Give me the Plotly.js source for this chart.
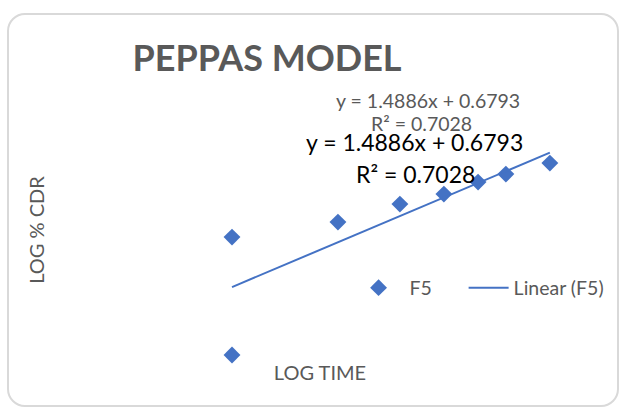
<!DOCTYPE html>
<html>
<head>
<meta charset="utf-8">
<script src="https://cdn.plot.ly/plotly-3.0.1.min.js"></script>
<style>
  html, body { margin: 0; padding: 0; background: #ffffff; }
  #wrap { position: relative; width: 623px; height: 410px; overflow: hidden; }
  #frame { position: absolute; left: 7px; top: 13px; width: 612px; height: 394px;
           border: 2px solid #d9d9d9; border-radius: 18px; box-sizing: border-box; }
  #chart { position: absolute; left: 0; top: 0; width: 623px; height: 410px; }
</style>
</head>
<body>
<div id="wrap">
  <div id="frame"></div>
  <div id="chart"></div>
</div>
<script>
// Data
const logTime = [0, 0, 0.301, 0.477, 0.602, 0.699, 0.778, 0.903];
const logCDR  = [1.179, 0, 1.329, 1.509, 1.609, 1.729, 1.809, 1.919];
const seriesName = "F5";
const trendName = "Linear (F5)";
const slope = 1.4886;
const intercept = 0.6793;
const rSquared = 0.7028;

const xMin = Math.min(...logTime), xMax = Math.max(...logTime);
const trendX = [xMin, xMax];
const trendY = trendX.map(x => slope * x + intercept);

const eqText = "y = " + slope.toFixed(4) + "x + " + intercept.toFixed(4);
const r2Text = "R² = " + rSquared.toFixed(4);

const blue = "#4472C4";
const grey = "#595959";
const fontFam = "Lato, 'Open Sans', sans-serif";

const traces = [
  { x: logTime, y: logCDR, name: seriesName, type: "scatter", mode: "markers",
    marker: { symbol: "diamond", size: 13, color: blue }, cliponaxis: false, legend: "legend" },
  { x: trendX, y: trendY, name: trendName, type: "scatter", mode: "lines",
    line: { color: blue, width: 2 }, cliponaxis: false, legend: "legend2" }
];

const layout = {
  width: 623, height: 410,
  margin: { l: 56, r: 39, t: 105, b: 55 },
  paper_bgcolor: "rgba(0,0,0,0)", plot_bgcolor: "rgba(0,0,0,0)",
  font: { family: fontFam, color: grey, size: 16 },
  title: { text: "<b>PEPPAS MODEL</b>", font: { size: 36, color: grey, family: fontFam },
           x: 267 / 623, xanchor: "center", xref: "container",
           y: 1 - 58 / 410, yanchor: "middle", yref: "container" },
  xaxis: { range: [-0.5, 1], showgrid: false, zeroline: false, showline: false,
           showticklabels: false, ticks: "",
           title: { text: "LOG TIME", font: { size: 20, color: grey }, standoff: 10 } },
  yaxis: { range: [0, 2.5], showgrid: false, zeroline: false, showline: false,
           showticklabels: false, ticks: "",
           title: { text: "LOG % CDR", font: { size: 20, color: grey }, standoff: 5 } },
  showlegend: true,
  legend: { orientation: "h", x: 0.5522, xanchor: "left", y: 0.268, yanchor: "middle",
            itemwidth: 52, font: { size: 19.5, color: grey }, bgcolor: "rgba(0,0,0,0)" },
  legend2: { orientation: "h", x: 0.772, xanchor: "left", y: 0.268, yanchor: "middle",
            itemwidth: 40, font: { size: 19.5, color: grey }, bgcolor: "rgba(0,0,0,0)" },
  annotations: [
    { text: eqText, xref: "paper", yref: "paper", x: (428 - 56) / 528, y: (355 - 100) / 250,
      showarrow: false, font: { size: 19.5, color: grey }, xanchor: "center", yanchor: "middle" },
    { text: r2Text, xref: "paper", yref: "paper", x: (421 - 56) / 528, y: (355 - 124) / 250,
      showarrow: false, font: { size: 19.5, color: grey }, xanchor: "center", yanchor: "middle" },
    { text: eqText, xref: "paper", yref: "paper", x: (414 - 56) / 528, y: (355 - 142) / 250,
      showarrow: false, font: { size: 23, color: "#000000" }, xanchor: "center", yanchor: "middle" },
    { text: r2Text, xref: "paper", yref: "paper", x: (415 - 56) / 528, y: (355 - 174) / 250,
      showarrow: false, font: { size: 23, color: "#000000" }, xanchor: "center", yanchor: "middle" }
  ]
};

Plotly.newPlot("chart", traces, layout, { displayModeBar: false, staticPlot: true });
</script>
</body>
</html>
